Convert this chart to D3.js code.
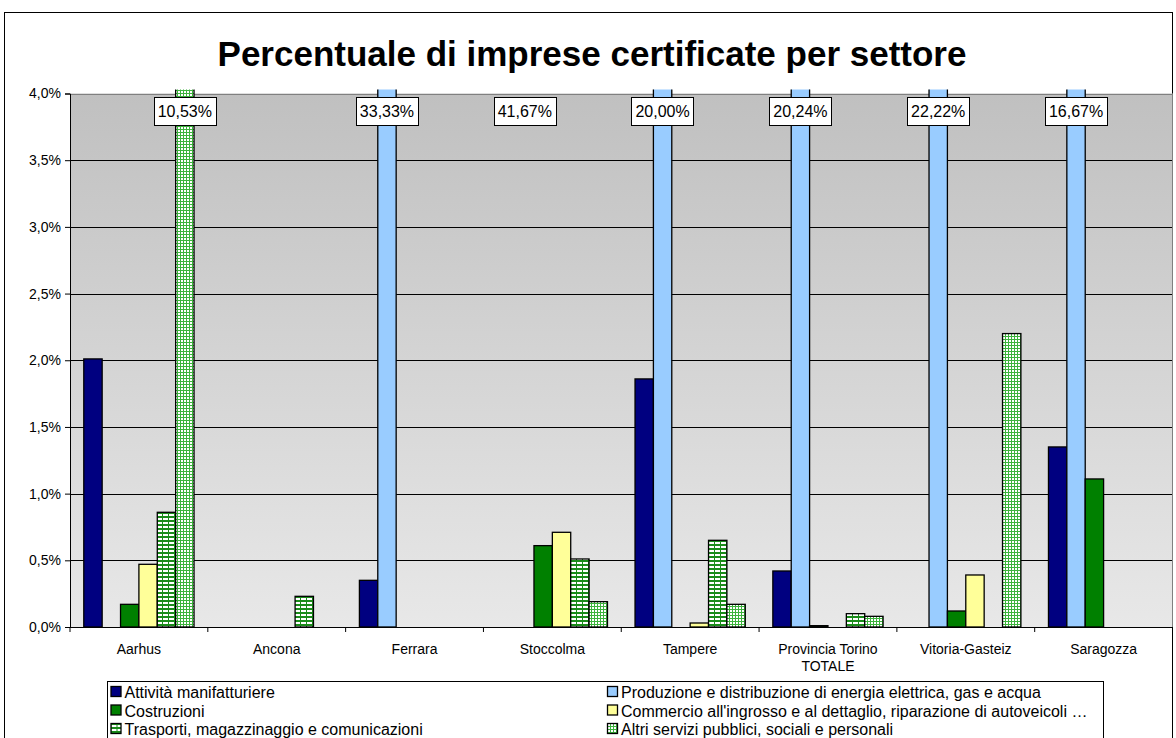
<!DOCTYPE html>
<html>
<head>
<meta charset="utf-8">
<script src="https://cdn.jsdelivr.net/npm/d3@7"></script>
<style>
  body { margin: 0; background: #fff; }
  svg { display: block; }
  text { font-family: Arial, "Liberation Sans", sans-serif; fill: #000; }
</style>
</head>
<body>
<svg id="chart" width="1176" height="738"></svg>
<script>
// Cities (x categories)
const cities = ["Aarhus", "Ancona", "Ferrara", "Stoccolma", "Tampere",
                "Provincia Torino TOTALE", "Vitoria-Gasteiz", "Saragozza"];
const cityLines = [["Aarhus"], ["Ancona"], ["Ferrara"], ["Stoccolma"], ["Tampere"],
                   ["Provincia Torino", "TOTALE"], ["Vitoria-Gasteiz"], ["Saragozza"]];

// Sectors (series)
const sectors = [
  "Attività manifatturiere",
  "Produzione e distribuzione di energia elettrica, gas e acqua",
  "Costruzioni",
  "Commercio all'ingrosso e al dettaglio, riparazione di autoveicoli …",
  "Trasporti, magazzinaggio e comunicazioni",
  "Altri servizi pubblici, sociali e personali"
];

// Percent of certified firms, one array per sector, ordered as cities
const manifatturiere = [2.01, 0, 0.35, 0, 1.86, 0.42, 0, 1.35];
const energia        = [0, 0, 33.33, 41.67, 20.00, 20.24, 22.22, 16.67];
const costruzioni    = [0.17, 0, 0, 0.61, 0, 0.01, 0.12, 1.11];
const commercio      = [0.47, 0, 0, 0.71, 0.03, 0, 0.39, 0];
const trasporti      = [0.86, 0.23, 0, 0.51, 0.65, 0.10, 0, 0];
const altriServizi   = [10.53, 0, 0, 0.19, 0.17, 0.08, 2.20, 0];

const yTicks = [0, 0.5, 1, 1.5, 2, 2.5, 3, 3.5, 4];
const yMax = 4;

const seriesValues = [manifatturiere, energia, costruzioni, commercio, trasporti, altriServizi];

// ---- drawing ----
const svg = d3.select("#chart");
const plot = { left: 70, right: 1172.5, top: 93.5, bottom: 627 };

const itLocale = d3.formatLocale({ decimal: ",", thousands: ".", grouping: [3], currency: ["€", ""] });
const fmtTick = v => itLocale.format(".1f")(v) + "%";
const fmtLabel = v => itLocale.format(".2f")(v) + "%";

const defs = svg.append("defs");

// background gradient of the plot area
const grad = defs.append("linearGradient").attr("id", "bgGrad")
  .attr("x1", 0).attr("y1", 0).attr("x2", 0).attr("y2", 1);
grad.append("stop").attr("offset", "0%").attr("stop-color", "#c0c0c0");
grad.append("stop").attr("offset", "100%").attr("stop-color", "#e8e8e8");

// horizontal-stripe fill
const pStripe = defs.append("pattern").attr("id", "pStripe")
  .attr("patternUnits", "userSpaceOnUse").attr("width", 6).attr("height", 4);
pStripe.append("rect").attr("width", 6).attr("height", 4).attr("fill", "#ffffff");
pStripe.append("rect").attr("y", 0).attr("width", 6).attr("height", 2).attr("fill", "#1a8c1a");
pStripe.append("rect").attr("x", 0).attr("y", 2).attr("width", 1).attr("height", 2).attr("fill", "#1a8c1a");

// fine grid fill
const pGrid = defs.append("pattern").attr("id", "pGrid")
  .attr("patternUnits", "userSpaceOnUse").attr("width", 3).attr("height", 3);
pGrid.append("rect").attr("width", 3).attr("height", 3).attr("fill", "#ffffff");
pGrid.append("rect").attr("width", 3).attr("height", 1).attr("fill", "#3cb33c");
pGrid.append("rect").attr("width", 1).attr("height", 3).attr("fill", "#3cb33c");

const fills = ["#000080", "#99ccff", "#008000", "#ffff99", "url(#pStripe)", "url(#pGrid)"];

defs.append("clipPath").attr("id", "plotClip")
  .append("rect")
  .attr("x", plot.left - 2).attr("y", plot.top - 4)
  .attr("width", plot.right - plot.left + 4).attr("height", plot.bottom - plot.top + 4);

// outer chart frame
svg.append("rect")
  .attr("x", 4.5).attr("y", 12.5).attr("width", 1168).attr("height", 740)
  .attr("fill", "#fff").attr("stroke", "#000").attr("stroke-width", 1);

// title
svg.append("text")
  .attr("x", 592).attr("y", 66)
  .attr("text-anchor", "middle")
  .style("font-size", "35px").style("font-weight", "bold")
  .text("Percentuale di imprese certificate per settore");

// scales
const x0 = d3.scaleBand().domain(cities).range([plot.left, plot.right]).paddingInner(0).paddingOuter(0);
const x1 = d3.scaleBand().domain(d3.range(sectors.length)).range([0, x0.bandwidth()])
  .paddingInner(0).paddingOuter(0.75);
const y = d3.scaleLinear().domain([0, yMax]).range([plot.bottom, plot.top]);

// plot background
svg.append("rect")
  .attr("x", plot.left).attr("y", plot.top)
  .attr("width", plot.right - plot.left).attr("height", plot.bottom - plot.top)
  .attr("fill", "url(#bgGrad)");

// gridlines
svg.append("g").selectAll("line").data(yTicks.filter(t => t > 0)).join("line")
  .attr("x1", plot.left).attr("x2", plot.right)
  .attr("y1", d => Math.round(y(d)) + 0.5).attr("y2", d => Math.round(y(d)) + 0.5)
  .attr("stroke", d => d === yMax ? "#808080" : "#000").attr("stroke-width", 1);

// plot area right border
svg.append("line")
  .attr("x1", plot.right).attr("x2", plot.right)
  .attr("y1", plot.top).attr("y2", plot.bottom)
  .attr("stroke", "#808080");

// bars
const barData = [];
cities.forEach((c, ci) => {
  seriesValues.forEach((vals, si) => {
    barData.push({ city: c, ci, si, value: vals[ci] });
  });
});

// the Stoccolma energy point is plotted without fill or border
const unfilledPoints = new Set(["Stoccolma|1"]);

const barsG = svg.append("g").attr("clip-path", "url(#plotClip)");
barsG.selectAll("rect").data(barData.filter(d => d.value > 0)).join("rect")
  .attr("x", d => x0(d.city) + x1(d.si))
  .attr("width", x1.bandwidth())
  .attr("y", d => y(Math.min(d.value, yMax * 1.02)))
  .attr("height", d => y(0) - y(Math.min(d.value, yMax * 1.02)))
  .attr("fill", d => unfilledPoints.has(d.city + "|" + d.si) ? "none" : fills[d.si])
  .attr("stroke", d => unfilledPoints.has(d.city + "|" + d.si) ? "none" : "#000")
  .attr("stroke-width", 1.3);

// axes
const yAxis = d3.axisLeft(y).tickValues(yTicks).tickFormat(fmtTick).tickSize(5).tickPadding(4);
const gy = svg.append("g").attr("transform", `translate(${plot.left},0)`).call(yAxis);
gy.select(".domain").attr("stroke", "#000");
gy.selectAll(".tick line").attr("stroke", "#000");
gy.selectAll(".tick text").style("font-size", "14px").style("font-family", "Arial, 'Liberation Sans', sans-serif").attr("fill", "#000");

// x axis: ticks between categories
const gx = svg.append("g");
gx.append("line").attr("x1", plot.left).attr("x2", plot.right)
  .attr("y1", plot.bottom + 0.5).attr("y2", plot.bottom + 0.5).attr("stroke", "#000");
gx.selectAll(".sep").data(d3.range(cities.length + 1)).join("line")
  .attr("class", "sep")
  .attr("x1", i => plot.left + i * x0.step()).attr("x2", i => plot.left + i * x0.step())
  .attr("y1", plot.bottom).attr("y2", plot.bottom + 5)
  .attr("stroke", "#000");
const xl = gx.selectAll(".cat").data(cities).join("text")
  .attr("class", "cat")
  .attr("x", d => x0(d) + x0.bandwidth() / 2)
  .attr("y", 654)
  .attr("text-anchor", "middle")
  .style("font-size", "14px");
xl.each(function(d, i) {
  d3.select(this).selectAll("tspan").data(cityLines[i]).join("tspan")
    .attr("x", x0(d) + x0.bandwidth() / 2)
    .attr("dy", (t, j) => j === 0 ? 0 : 17)
    .text(t => t);
});

// value labels for bars running past the axis maximum
const over = barData.filter(d => d.value > yMax);
const lblG = svg.append("g");
over.forEach(d => {
  const cx = x0(d.city) + x1(d.si) + x1.bandwidth() / 2;
  const t = lblG.append("text")
    .attr("x", cx).attr("y", 117)
    .attr("text-anchor", "middle")
    .style("font-size", "16px")
    .text(fmtLabel(d.value));
  const w = t.node().getComputedTextLength() + 8;
  lblG.insert("rect", () => t.node())
    .attr("x", Math.round(cx - w / 2) + 0.5).attr("y", 97.5)
    .attr("width", Math.round(w)).attr("height", 28)
    .attr("fill", "#fff").attr("stroke", "#000");
});

// legend
const leg = { x: 107.5, y: 681.5, w: 996, h: 70, col2: 607, rowH: 18.5, base: 698 };
const lg = svg.append("g");
lg.append("rect").attr("x", leg.x).attr("y", leg.y).attr("width", leg.w).attr("height", leg.h)
  .attr("fill", "#fff").attr("stroke", "#000");
const items = lg.selectAll(".item").data(sectors).join("g").attr("class", "item")
  .attr("transform", (d, i) => {
    const col = i % 2, row = Math.floor(i / 2);
    const xx = col === 0 ? leg.x + 3 : leg.col2;
    return `translate(${xx},${leg.base + row * leg.rowH})`;
  });
items.append("rect").attr("x", 0.5).attr("y", -11.5).attr("width", 10).attr("height", 10)
  .attr("fill", (d, i) => fills[i]).attr("stroke", "#000").attr("stroke-width", 1.3);
items.append("text").attr("x", 14).attr("y", 0).style("font-size", "16px").text(d => d);
</script>
</body>
</html>
